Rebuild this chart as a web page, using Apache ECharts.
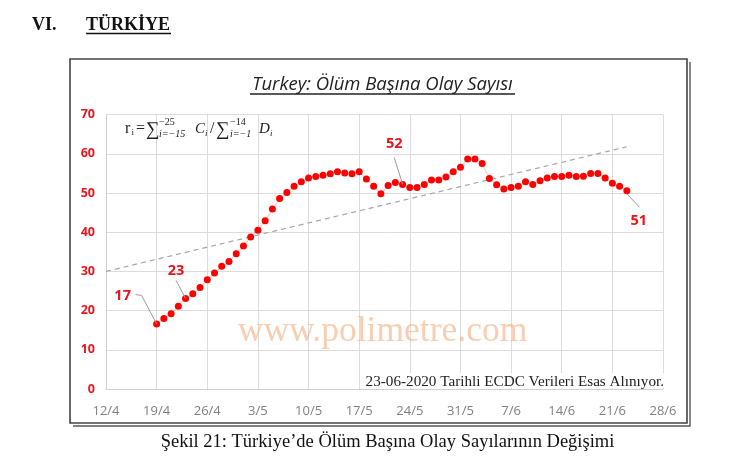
<!DOCTYPE html>
<html>
<head>
<meta charset="utf-8">
<script src="https://cdn.jsdelivr.net/npm/echarts@6/dist/echarts.min.js"></script>
<style>
html,body{margin:0;padding:0;background:#fff;}
#c{width:756px;height:463px;}
</style>
</head>
<body>
<div id="c"></div>
<script>
// ---- data ----
const xTickLabels = ['12/4','19/4','26/4','3/5','10/5','17/5','24/5','31/5','7/6','14/6','21/6','28/6'];
const yTickLabels = [0,10,20,30,40,50,60,70];
const dates = ['19/4','20/4','21/4','22/4','23/4','24/4','25/4','26/4','27/4','28/4','29/4','30/4',
 '1/5','2/5','3/5','4/5','5/5','6/5','7/5','8/5','9/5','10/5','11/5','12/5','13/5','14/5','15/5','16/5','17/5','18/5','19/5','20/5','21/5','22/5','23/5','24/5','25/5','26/5','27/5','28/5','29/5','30/5','31/5',
 '1/6','2/6','3/6','4/6','5/6','6/6','7/6','8/6','9/6','10/6','11/6','12/6','13/6','14/6','15/6','16/6','17/6','18/6','19/6','20/6','21/6','22/6','23/6'];
const values = [16.6,18.0,19.2,21.1,23.1,24.3,25.9,27.9,29.6,31.3,32.5,34.5,
 36.5,38.8,40.5,42.9,45.9,48.6,50.1,51.7,52.9,53.8,54.2,54.5,54.9,55.4,55.1,54.9,55.4,53.6,51.7,49.8,51.9,52.7,52.2,51.4,51.4,52.2,53.3,53.3,54.1,55.4,56.6,
 58.7,58.7,57.5,53.7,52.1,51.0,51.4,51.7,52.9,52.2,53.1,53.8,54.2,54.2,54.5,54.2,54.3,55.0,55.0,53.8,52.5,51.7,50.6];
const trendDates = ['12/4','23/6'];
const trendValues = [30, 61.8];
const annotDates = ['19/4','23/4','23/5','23/6'];
const annotTexts = ['17','23','52','51'];

// ---- helpers ----
const startDay = new Date(2020,3,12);
function dayIdx(s){ const p=s.split('/'); const d=new Date(2020,+p[1]-1,+p[0]); return Math.round((d-startDay)/86400000); }

const pts = dates.map((d,i)=>[dayIdx(d), values[i]]);
const trend = trendDates.map((d,i)=>[dayIdx(d), trendValues[i]]);

const chart = echarts.init(document.getElementById('c'), null, {renderer:'canvas'});
const RED = '#e8141b';
chart.setOption({
  animation:false,
  backgroundColor:'#fff',
  grid:{left:106, right:93, top:114.6, bottom:74},
  xAxis:{type:'value', min:0, max:77, interval:7,
    axisLine:{show:true, lineStyle:{color:'#d0d0d0', width:1}},
    axisTick:{show:false},
    splitLine:{show:true, lineStyle:{color:'#dcdcdc', width:1}},
    axisLabel:{margin:16, color:'#808080', fontSize:13, fontFamily:'Open Sans',
      formatter:(v)=>xTickLabels[Math.round(v/7)]}},
  yAxis:{type:'value', min:0, max:70, interval:10,
    axisLine:{show:true, lineStyle:{color:'#d0d0d0', width:1}},
    axisTick:{show:false},
    splitLine:{show:true, lineStyle:{color:'#dcdcdc', width:1}},
    axisLabel:{margin:11, color:RED, fontSize:12.5, fontWeight:'bold', fontFamily:'Open Sans',
      formatter:(v)=>String(yTickLabels[Math.round(v/10)])}},
  series:[
    {type:'line', data:trend, symbol:'none', z:2,
      lineStyle:{color:'#a6a6a6', width:1.2, type:[5,4]}},
    {type:'line', data:pts, symbol:'circle', symbolSize:7, z:3,
      itemStyle:{color:'#ff0000'},
      lineStyle:{color:'rgba(255,110,110,0.3)', width:1.5}}
  ]
});

// ---- annotations & decorations ----
const annotStyle = [
  {dx:-34, dy:-28, line:[[0,0],[-15,-28.5],[-21,-29.3]]},
  {dx:-9.5, dy:-28, line:[[0,0],[-9.5,-18]]},
  {dx:-8.4, dy:-40.4, line:[[0,0],[-8.4,-27]]},
  {dx:12, dy:30, line:[[0,3],[12.7,16.7]]}
];
const g = [];
// frame
g.push({type:'rect', shape:{x:70,y:59,width:617,height:364}, style:{fill:'none', stroke:'#444', lineWidth:1.6}, z:0});
g.push({type:'polyline', shape:{points:[[690,62],[690,426],[73,426]]}, style:{fill:'none', stroke:'#555', lineWidth:1.4}, z:0});
// header
g.push({type:'text', x:32, y:25, style:{text:'VI.', font:'bold 18px "Liberation Serif"', fill:'#111', textVerticalAlign:'middle'}});
g.push({type:'text', x:86, y:25, style:{text:'TÜRKİYE', font:'bold 18px "Liberation Serif"', fill:'#111', textVerticalAlign:'middle'}});
g.push({type:'line', shape:{x1:86,y1:33.5,x2:171,y2:33.5}, style:{stroke:'#111', lineWidth:1.5}});
// title
g.push({type:'text', x:382.5, y:85, style:{text:'Turkey: Ölüm Başına Olay Sayısı', font:'italic 18.5px "Open Sans"', fill:'#222', textAlign:'center', textVerticalAlign:'middle'}});
g.push({type:'line', shape:{x1:250,y1:94,x2:515,y2:94}, style:{stroke:'#222', lineWidth:1.3}});
// caption
g.push({type:'text', x:387.5, y:442, style:{text:'Şekil 21: Türkiye’de Ölüm Başına Olay Sayılarının Değişimi', font:'18.5px "Liberation Serif"', fill:'#111', textAlign:'center', textVerticalAlign:'middle'}});
// watermark
g.push({type:'text', x:382.5, y:332, z:1, style:{text:'www.polimetre.com', font:'35.5px "Liberation Serif"', fill:'rgba(240,165,115,0.55)', textAlign:'center', textVerticalAlign:'middle'}});
// source note
g.push({type:'rect', shape:{x:360,y:373,width:304,height:15}, style:{fill:'#fff'}, z:4});
g.push({type:'text', x:664, y:382.5, z:5, style:{text:'23-06-2020 Tarihli ECDC Verileri Esas Alınıyor.', font:'15.2px "Liberation Serif"', fill:'#222', textAlign:'right', textVerticalAlign:'middle'}});
// formula
const F = 'Liberation Serif';
const fx = [
  {t:'r', x:125, y:129, s:16, it:false},
  {t:'i', x:131.5, y:133, s:9, it:false},
  {t:'=', x:136, y:129, s:16, it:false},
  {t:'∑', x:146, y:130, s:19, it:false},
  {t:'−25', x:159, y:122.5, s:10, it:false},
  {t:'i=−15', x:159, y:134, s:10, it:true},
  {t:'C', x:195, y:129, s:15, it:true},
  {t:'i', x:205, y:133.5, s:9, it:true},
  {t:'/', x:210, y:129, s:16, it:false},
  {t:'∑', x:216, y:130, s:19, it:false},
  {t:'−14', x:230, y:122.5, s:10, it:false},
  {t:'i=−1', x:230, y:134, s:10, it:true},
  {t:'D', x:259, y:129, s:15, it:true},
  {t:'i', x:270, y:133.5, s:9, it:true}
];
fx.forEach(e=>g.push({type:'text', x:e.x, y:e.y, z:5, style:{text:e.t, font:(e.it?'italic ':'')+e.s+'px "'+F+'"', fill:'#222', textVerticalAlign:'middle'}}));
// annotations
annotDates.forEach((d,i)=>{
  const v = values[dates.indexOf(d)];
  const p = chart.convertToPixel({gridIndex:0},[dayIdx(d), v]);
  const a = annotStyle[i];
  g.push({type:'polyline', z:4, shape:{points:a.line.map(q=>[p[0]+q[0], p[1]+q[1]])}, style:{fill:'none', stroke:'#9a9a9a', lineWidth:1}});
  g.push({type:'text', z:5, x:p[0]+a.dx, y:p[1]+a.dy, style:{text:annotTexts[i], font:'bold 14.5px "Open Sans"', fill:RED, textAlign:'center', textVerticalAlign:'middle'}});
});
chart.setOption({graphic:g});
</script>
</body>
</html>
